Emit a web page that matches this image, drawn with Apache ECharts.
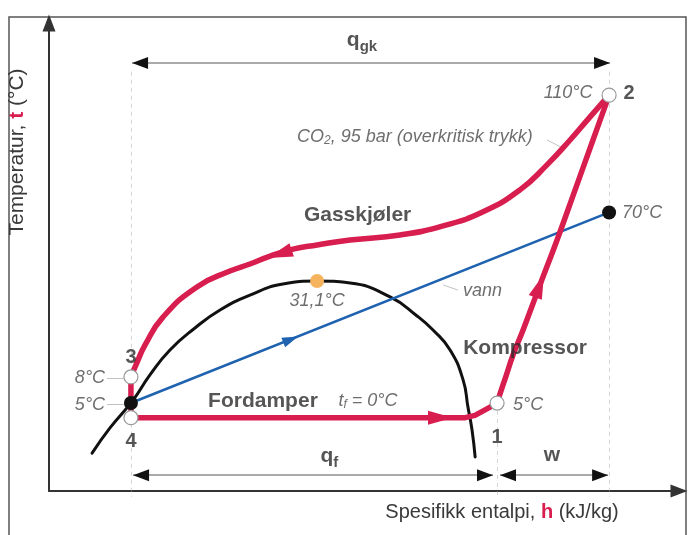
<!DOCTYPE html>
<html>
<head>
<meta charset="utf-8">
<script src="https://cdn.jsdelivr.net/npm/echarts@6/dist/echarts.min.js"></script>
<style>html,body{margin:0;padding:0;background:#fff;}#c{width:688px;height:535px;}</style>
</head>
<body>
<div id="c"></div>
<script>
// ---- data (h in kJ/kg-like schematic units, t in °C-like schematic units) ----
const domeCurve = [[226.5,-12.1],[237.5,-3.5],[251.7,6.0],[262.1,14.6],[274.4,23.1],[289.8,30.6],[305.2,36.7],[323.6,41.8],[343.9,45.6],[364.9,46.6],[385.2,45.9],[409.8,41.2],[426.4,34.7],[436.2,29.9],[446.7,23.1],[454.7,12.9],[457.7,3.6],[460.2,-4.2],[462.1,-13.4]];
const gasCoolerCurve = [[544.5,110],[532.8,102.6],[520.5,94.7],[506.3,86.2],[489.7,77.7],[467.0,70.2],[442.4,65.4],[415.9,62.3],[385.2,60.6],[364.9,58.9],[350.1,57.5],[336.0,55.1],[323.6,52.4],[311.3,50.0],[291.0,44.6],[270.1,34.3],[259.1,24.8],[253.5,18.0],[250.4,13.9]];
const compressorCurve = [[475.6,5],[477.4,8.1],[481.1,14.2],[485.4,21.4],[491.6,29.9],[502.0,45.3],[512.5,60.6],[523.6,77.7],[534.6,94.7],[544.5,110]];
const evaporatorCurve = [[250.4,0],[456,0],[462,0.8],[471.3,3.6],[475.6,5]];
const expansionLine = [[250.4,13.9],[250.4,0]];
const waterLine = [[250.4,5],[544.5,70]];
const whiteStates = [[250.4,13.9],[250.4,0],[475.6,5],[544.5,110]];
const blackStates = [[250.4,5],[544.5,70]];
const criticalPoint = [[364.9,46.6]];
const guideLines = [[[250.4,118],[250.4,-27]],[[544.5,118],[544.5,-27]],[[475.6,2.3],[475.6,-27]]];
const dimensionLines = [[[251.1,121],[545.1,121]],[[251.7,-19.6],[473.1,-19.6]],[[477.4,-19.6],[543.9,-19.6]]];
const leaderLines = [[[235.7,13.5],[246.0,13.5]],[[235.7,4.6],[246.0,4.6]],[[506.3,94.7],[514.9,92.3]],[[442.4,45.3],[451.6,43.5]]];
// arrowheads: [tip, point behind tip]
const dimensionArrows = [[[251.1,121],[300,121]],[[545.1,121],[500,121]],[[251.7,-19.6],[300,-19.6]],[[473.1,-19.6],[430,-19.6]],[[477.4,-19.6],[520,-19.6]],[[543.9,-19.6],[500,-19.6]]];
const redArrows = [[[448.5,0],[420,0]],[[334.7,54.5],[354.4,58.2]],[[504.5,49],[495,35]]];
const blueArrows = [[[353.2,27.7],[320,20.2]]];
const boldLabels = [['Gasskjøler',389.8,69.1],['Kompressor',492.8,23.8],['Fordamper',331.6,5.7],['w',509.4,-12.7]];
const numberLabels = [['1',475.6,-6.9],['2',556.8,110.4],['3',250.4,20.7],['4',250.4,-8.0]];
const italicLabels = [['110°C',519.3,110.7],['70°C',564.8,69.8],['5°C',494.7,4.3],['8°C',225.2,13.5],['5°C',225.2,4.3],['31,1°C',364.9,39.8],['vann',466.7,43.2]];
const italicSubLabels = [['{a|CO}{s|2}{a|, 95 bar (overkritisk trykk)}',425.1,95.7],['{a|t}{s|f}{a| = 0°C}',396.2,5.7]];
const boldSubLabels = [['{a|q}{s|gk}',392.5,128.8],['{a|q}{s|f}',372.5,-13.1]];

// ---- layout ----
const X_MIN = 200, X_MAX = 587.5, Y_MIN = -25, Y_MAX = 134.6;
const GRID = {left: 49, top: 23, width: 630, height: 468};
const kx = GRID.width / (X_MAX - X_MIN), ky = GRID.height / (Y_MAX - Y_MIN);
const RED = '#d81d4f', BLUE = '#1f62b0', FONT = 'Liberation Sans, Arial, sans-serif';

function arrowData(list, len) {
  return list.map(([tip, back]) => {
    const dx = (tip[0] - back[0]) * kx, dy = (tip[1] - back[1]) * ky;
    const d = Math.hypot(dx, dy), ux = dx / d, uy = dy / d;
    const ang = Math.atan2(dy, dx) * 180 / Math.PI;
    return {value: [tip[0] - ux * len / 2 / kx, tip[1] - uy * len / 2 / ky], symbolRotate: ang - 90};
  });
}
function arrowSeries(list, w, len, color) {
  return {type: 'scatter', symbol: 'triangle', symbolSize: [w, len], data: arrowData(list, len),
    itemStyle: {color: color, opacity: 1}, z: 8, silent: true, clip: false};
}
function curve(data, color, width, smooth, z) {
  return {type: 'line', data: data, smooth: smooth, showSymbol: false, symbol: 'none',
    lineStyle: {color: color, width: width, cap: 'round', join: 'round'}, z: z, silent: true};
}
function segs(list, style, z) {
  return {type: 'lines', coordinateSystem: 'cartesian2d', polyline: false, clip: false,
    data: list.map(c => ({coords: c})), lineStyle: style, symbol: 'none', z: z, silent: true};
}
function labelSeries(list, labelStyle) {
  return {type: 'scatter', symbolSize: 1, itemStyle: {color: 'transparent'}, clip: false, z: 10, silent: true,
    data: list.map(d => [d[1], d[2], d[0]]),
    label: Object.assign({show: true, position: 'inside', formatter: p => p.data[2], fontFamily: FONT}, labelStyle)};
}

const chart = echarts.init(document.getElementById('c'), null, {renderer: 'canvas'});
const axisCommon = {type: 'value', axisTick: {show: false}, axisLabel: {show: false}, splitLine: {show: false}};
chart.setOption({
  animation: false,
  backgroundColor: '#ffffff',
  grid: GRID,
  xAxis: Object.assign({min: X_MIN, max: X_MAX, axisLine: {show: true, onZero: false, symbol: ['none', 'triangle'], symbolSize: [13, 17], lineStyle: {color: '#333', width: 2}}}, axisCommon),
  yAxis: Object.assign({min: Y_MIN, max: Y_MAX, axisLine: {show: true, onZero: false, symbol: ['none', 'triangle'], symbolSize: [13, 17], lineStyle: {color: '#333', width: 2}}}, axisCommon),
  graphic: [
    {type: 'rect', shape: {x: 9, y: 17, width: 677, height: 540}, style: {fill: 'none', stroke: '#555', lineWidth: 1.5}, silent: true},
    {type: 'text', x: 502, y: 512, style: {text: 'Spesifikk entalpi, {r|h} (kJ/kg)', fill: '#3a3a3a', font: '20px ' + FONT, textAlign: 'center', textVerticalAlign: 'middle',
      rich: {r: {fill: RED, fontWeight: 'bold', fontSize: 20, fontFamily: FONT}}}, silent: true},
    {type: 'text', x: 17, y: 152, rotation: Math.PI / 2, style: {text: 'Temperatur, {r|t} (°C)', fill: '#3a3a3a', font: '21px ' + FONT, textAlign: 'center', textVerticalAlign: 'middle',
      rich: {r: {fill: RED, fontWeight: 'bold', fontSize: 21, fontFamily: FONT}}}, silent: true}
  ],
  series: [
    segs(guideLines, {color: '#aaa', width: 1, type: [4, 4]}, 1),
    segs(dimensionLines, {color: '#555', width: 2}, 2),
    segs(leaderLines, {color: '#888', width: 1}, 2),
    curve(domeCurve, '#111', 3, true, 3),
    curve(waterLine, BLUE, 2.5, false, 4),
    curve(gasCoolerCurve, RED, 5.5, 0.5, 5),
    curve(compressorCurve, RED, 5.5, 0.4, 5),
    curve(evaporatorCurve, RED, 5.5, false, 5),
    curve(expansionLine, RED, 5.5, false, 5),
    arrowSeries(dimensionArrows, 12, 16, '#111'),
    arrowSeries(redArrows, 14, 25, RED),
    arrowSeries(blueArrows, 10, 16, BLUE),
    {type: 'scatter', data: whiteStates, symbolSize: 14, itemStyle: {color: '#fff', borderColor: '#999', borderWidth: 1.2, opacity: 1}, z: 9, silent: true},
    {type: 'scatter', data: blackStates, symbolSize: 14, itemStyle: {color: '#111', opacity: 1}, z: 9, silent: true},
    {type: 'scatter', data: criticalPoint, symbolSize: 14, itemStyle: {color: '#f4b35c', opacity: 1}, z: 9, silent: true},
    labelSeries(boldLabels, {fontSize: 21, fontWeight: 'bold', color: '#2a2a2a'}),
    labelSeries(numberLabels, {fontSize: 20, fontWeight: 'bold', color: '#2a2a2a'}),
    labelSeries(italicLabels, {fontSize: 18, fontStyle: 'italic', color: '#4a4a4a'}),
    labelSeries(italicSubLabels, {rich: {
      a: {fontSize: 18, fontStyle: 'italic', color: '#4a4a4a', lineHeight: 22, fontFamily: FONT},
      s: {fontSize: 12, fontStyle: 'italic', color: '#4a4a4a', lineHeight: 14, padding: [8, 0, 0, 0], fontFamily: FONT}}}),
    labelSeries(boldSubLabels, {rich: {
      a: {fontSize: 21, fontWeight: 'bold', color: '#2a2a2a', lineHeight: 28, fontFamily: FONT},
      s: {fontSize: 15, fontWeight: 'bold', color: '#2a2a2a', lineHeight: 14, padding: [14, 0, 0, 0], fontFamily: FONT}}})
  ]
});
</script>
</body>
</html>
